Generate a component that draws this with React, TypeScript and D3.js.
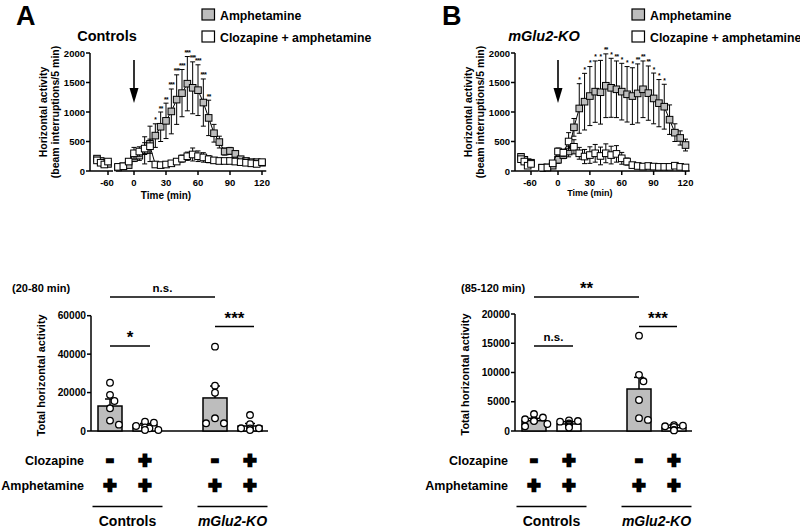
import React from 'react';
import * as d3 from 'd3';

const FONT = 'Arial, "Liberation Sans", Helvetica, sans-serif';

// ---------- time course data ----------
const timeLeft = [-75, -70, -65, -60];
const timeRight = [-15, -10, -5, 0, 5, 10, 15, 20, 25, 30, 35, 40, 45, 50, 55, 60, 65, 70, 75, 80, 85, 90, 95, 100, 105, 110, 115, 120];
const xTicksLeft = [-60];
const xTicksRight = [0, 30, 60, 90, 120];
const yTicksTime = [0, 500, 1000, 1500, 2000];

// Controls (panel A)
const ctrlAmphLeft = [210, 170, 130, 120];
const ctrlAmphLeftSem = [40, 30, 30, 30];
const ctrlClozLeft = [180, 140, 110, 160];
const ctrlClozLeftSem = [30, 30, 30, 30];
const ctrlAmph = [60, 80, 100, 220, 260, 350, 460, 600, 750, 850, 1010, 1210, 1320, 1480, 1410, 1370, 1160, 900, 640, 490, 330, 340, 290, 200, 170, 150, 150, 140];
const ctrlAmphSem = [20, 20, 30, 60, 80, 230, 300, 200, 250, 300, 380, 420, 400, 460, 440, 430, 400, 300, 150, 100, 60, 60, 50, 40, 30, 30, 30, 30];
const ctrlCloz = [70, 80, 160, 300, 330, 380, 420, 110, 100, 110, 130, 160, 210, 250, 280, 250, 230, 200, 180, 170, 170, 170, 160, 150, 140, 130, 120, 150];
const ctrlClozSem = [20, 20, 40, 100, 80, 100, 120, 40, 30, 30, 30, 40, 60, 70, 110, 90, 80, 60, 40, 30, 30, 30, 30, 30, 30, 30, 30, 30];
const ctrlStars = ['', '', '', '', '', '', '', '*', '**', '**', '***', '***', '***', '***', '***', '***', '***', '**', '', '', '', '', '', '', '', '', '', ''];

// mGlu2-KO (panel B)
const koAmphLeft = [240, 190, 150, 140];
const koAmphLeftSem = [50, 40, 30, 30];
const koClozLeft = [200, 160, 90, 120];
const koClozLeftSem = [40, 30, 30, 30];
const koAmph = [56, 60, 90, 190, 270, 330, 740, 1060, 1175, 1270, 1345, 1335, 1445, 1410, 1385, 1345, 1300, 1270, 1315, 1385, 1320, 1230, 1150, 1090, 870, 650, 560, 440];
const koAmphSem = [20, 20, 30, 60, 60, 90, 150, 420, 480, 500, 520, 540, 540, 500, 480, 480, 470, 480, 500, 480, 460, 430, 400, 380, 250, 150, 120, 100];
const koCloz = [56, 60, 130, 330, 310, 500, 410, 300, 245, 270, 300, 255, 300, 270, 290, 215, 160, 100, 85, 75, 85, 75, 70, 70, 70, 90, 70, 60];
const koClozSem = [20, 20, 30, 60, 60, 150, 120, 100, 120, 140, 150, 150, 160, 150, 140, 100, 60, 40, 30, 30, 30, 30, 30, 30, 30, 30, 30, 30];
const koStars = ['', '', '', '', '', '', '', '*', '*', '*', '*', '*', '**', '*', '**', '*', '*', '*', '**', '**', '**', '*', '*', '*', '', '', '', ''];

// ---------- bar panel data ----------
const barGroups = ['ctl-', 'ctl+', 'gap', 'ko-', 'ko+'];
const barKeys = ['ctl-', 'ctl+', 'ko-', 'ko+'];
const clozapineSigns = ['-', '+', '-', '+'];
const amphetamineSigns = ['+', '+', '+', '+'];

const cMeans = [13000, 3100, 17200, 2600];
const cSem = [3650, 800, 6200, 1300];
const cPoints = [
  [25100, 18800, 15600, 11800, 5400, 3300],
  [4860, 4340, 2600, 1900, 1390, 520, 520],
  [43900, 23600, 19900, 6600, 4000, 4000],
  [8300, 3600, 1400, 1400, 1300, 500],
];
const cTicks = [0, 20000, 40000, 60000];

const dMeans = [1760, 1200, 7180, 570];
const dSem = [410, 400, 1990, 450];
const dPoints = [
  [2900, 2300, 2000, 1800, 1700, 1200, 800],
  [1800, 1700, 1600, 1300, 1100, 800, 600],
  [16300, 9600, 8500, 5300, 2200, 1900],
  [1000, 900, 800, 700, 200, 100],
];
const dTicks = [0, 5000, 10000, 15000, 20000];

const GRAY = '#bdbdbd';

function swarm(values: number[], y: (v: number) => number, r: number) {
  const placed: { x: number; y: number }[] = [];
  const order = values.map((_, i) => i).sort((a, b) => values[b] - values[a]);
  const res: { x: number; y: number }[] = new Array(values.length);
  const offsets = [0, 1, -1, 2, -2, 3, -3];
  for (const i of order) {
    const py = y(values[i]);
    for (const o of offsets) {
      const px = o * r * 1.35;
      if (placed.every(p => Math.hypot(p.x - px, p.y - py) >= 2 * r + 0.3)) {
        placed.push({ x: px, y: py });
        res[i] = { x: px, y: py };
        break;
      }
    }
    if (!res[i]) res[i] = { x: 0, y: py };
  }
  return res;
}

type TimeCfg = {
  axisX: number; x0: number; x120: number; leftRange: [number, number];
  letter: string; letterX: number; title: string; italic: boolean; titleX: number;
  legendX: number; timeLabelSize: number; timeLabelY: number;
  amphL: number[]; amphLS: number[]; clozL: number[]; clozLS: number[];
  amph: number[]; amphS: number[]; cloz: number[]; clozS: number[]; stars: string[];
};

function TimePanel({ c }: { c: TimeCfg }) {
  const yTop = 53, yBot = 171;
  const y = d3.scaleLinear().domain([0, 2000]).range([yBot, yTop]);
  const xr = d3.scaleLinear().domain([0, 120]).range([c.x0, c.x120]);
  const xl = d3.scaleLinear().domain([-75, -60]).range(c.leftRange);
  const sq = 6.6;
  const line = d3.line<number>();

  const series = (xs: number[], xsc: (v: number) => number, vals: number[], sems: number[], fill: string, key: string) => (
    <g key={key}>
      <path d={line(vals.map((v, i) => [xsc(xs[i]), y(v)]) as any) || ''} fill="none" stroke="#000" strokeWidth={1} />
      {vals.map((v, i) => {
        const px = xsc(xs[i]);
        const yt = y(v + sems[i]), yb = y(Math.max(0, v - sems[i]));
        return (
          <g key={i}>
            <line x1={px} x2={px} y1={yt} y2={yb} stroke="#000" strokeWidth={1} />
            <line x1={px - 2.5} x2={px + 2.5} y1={yt} y2={yt} stroke="#000" strokeWidth={1} />
            <line x1={px - 2.5} x2={px + 2.5} y1={yb} y2={yb} stroke="#000" strokeWidth={1} />
          </g>
        );
      })}
      {vals.map((v, i) => (
        <rect key={'s' + i} x={xsc(xs[i]) - sq / 2} y={y(v) - sq / 2} width={sq} height={sq} fill={fill} stroke="#000" strokeWidth={1} />
      ))}
    </g>
  );

  return (
    <g fontFamily={FONT} fontWeight="bold">
      <text x={c.letterX} y={25} fontSize={27}>{c.letter}</text>
      <text x={c.titleX} y={41} fontSize={14.5} textAnchor="middle" fontStyle={c.italic ? 'italic' : 'normal'}>{c.title}</text>
      {/* legend */}
      <rect x={c.legendX} y={9} width={12.5} height={11} fill={GRAY} stroke="#000" strokeWidth={1.2} />
      <text x={c.legendX + 18} y={19.5} fontSize={12.3}>Amphetamine</text>
      <rect x={c.legendX} y={31} width={12.5} height={11} fill="#fff" stroke="#000" strokeWidth={1.2} />
      <text x={c.legendX + 18} y={41.5} fontSize={12.3}>Clozapine + amphetamine</text>
      {/* y axis */}
      <line x1={c.axisX} x2={c.axisX} y1={yTop} y2={yBot} stroke="#000" strokeWidth={1.5} />
      {yTicksTime.map(t => (
        <g key={t}>
          <line x1={c.axisX - 4} x2={c.axisX} y1={y(t)} y2={y(t)} stroke="#000" strokeWidth={1.5} />
          <text x={c.axisX - 5} y={y(t) + 3.5} fontSize={9.5} textAnchor="end">{t}</text>
        </g>
      ))}
      <g transform={`translate(${c.axisX - 43},${(yTop + yBot) / 2}) rotate(-90)`}>
        <text x={0} y={0} fontSize={10.5} textAnchor="middle">Horizontal activity</text>
        <text x={0} y={12} fontSize={10.5} textAnchor="middle">(beam interruptions/5 min)</text>
      </g>
      {/* x axis segments */}
      <line x1={c.axisX} x2={c.axisX + 23} y1={yBot} y2={yBot} stroke="#000" strokeWidth={1.5} />
      <line x1={xr(-17)} x2={xr(124)} y1={yBot} y2={yBot} stroke="#000" strokeWidth={1.5} />
      {xTicksLeft.map(t => (
        <g key={'l' + t}>
          <line x1={xl(t)} x2={xl(t)} y1={yBot} y2={yBot + 4} stroke="#000" strokeWidth={1.5} />
          <text x={xl(t) - 1} y={yBot + 14.5} fontSize={9.5} textAnchor="middle">{t}</text>
        </g>
      ))}
      {xTicksRight.map(t => (
        <g key={'r' + t}>
          <line x1={xr(t)} x2={xr(t)} y1={yBot} y2={yBot + 4} stroke="#000" strokeWidth={1.5} />
          <text x={xr(t)} y={yBot + 14.5} fontSize={9.5} textAnchor="middle">{t}</text>
        </g>
      ))}
      <text x={xr(30)} y={c.timeLabelY} fontSize={c.timeLabelSize} textAnchor="middle">Time (min)</text>
      {/* arrow */}
      <line x1={xr(0)} x2={xr(0)} y1={60} y2={92} stroke="#000" strokeWidth={1.6} />
      <path d={`M${xr(0) - 4.5},88 L${xr(0) + 4.5},88 L${xr(0)},103 Z`} fill="#000" />
      {/* series */}
      {series(timeLeft, xl, c.amphL, c.amphLS, GRAY, 'al')}
      {series(timeRight, xr, c.amph, c.amphS, GRAY, 'ar')}
      {series(timeLeft, xl, c.clozL, c.clozLS, '#fff', 'cl')}
      {series(timeRight, xr, c.cloz, c.clozS, '#fff', 'cr')}
      {c.stars.map((s, i) => s ? (
        <text key={'st' + i} x={xr(timeRight[i])} y={y(c.amph[i] + c.amphS[i]) - 1.5} fontSize={6.5} textAnchor="middle" letterSpacing={-0.6}>{s}</text>
      ) : null)}
    </g>
  );
}

type BarCfg = {
  axisX: number; endX: number; range: [number, number]; max: number; ticks: number[]; top: number;
  means: number[]; sem: number[]; points: number[][]; period: string; periodX: number;
  sig: { a: number; b: number; y: number; label: string; extend: number; size: number }[];
};

function BarPanel({ c }: { c: BarCfg }) {
  const yBot = 431;
  const y = d3.scaleLinear().domain([0, c.max]).range([yBot, c.top]);
  const x = d3.scalePoint<string>().domain(barGroups).range(c.range);
  const bw = 24;
  const r = 3.3;
  const sign = (cx: number, cy: number, s: string, key: string) => (
    <text key={key} x={cx} y={cy + (s === '+' ? 7.6 : 6.2)} fontSize={22} textAnchor="middle" stroke="#000" strokeWidth={2.4} strokeLinejoin="miter">{s}</text>
  );
  const mid1 = ((x('ctl-') as number) + (x('ctl+') as number)) / 2;
  const mid2 = ((x('ko-') as number) + (x('ko+') as number)) / 2;
  return (
    <g fontFamily={FONT} fontWeight="bold">
      <text x={c.periodX} y={292} fontSize={11}>{c.period}</text>
      <line x1={c.axisX} x2={c.axisX} y1={c.top} y2={yBot} stroke="#000" strokeWidth={1.5} />
      <line x1={c.axisX} x2={c.endX} y1={yBot} y2={yBot} stroke="#000" strokeWidth={1.5} />
      {c.ticks.map(t => (
        <g key={t}>
          <line x1={c.axisX - 4} x2={c.axisX} y1={y(t)} y2={y(t)} stroke="#000" strokeWidth={1.5} />
          <text x={c.axisX - 5} y={y(t) + 3.6} fontSize={10.2} textAnchor="end">{t}</text>
        </g>
      ))}
      <text transform={`translate(${c.axisX - 46},${(c.top + yBot) / 2 + 2}) rotate(-90)`} fontSize={11} textAnchor="middle">Total horizontal activity</text>
      {barKeys.map((k, i) => {
        const cx = x(k) as number;
        const top = y(c.means[i]);
        const et = y(c.means[i] + c.sem[i]);
        const pts = swarm(c.points[i], y, r);
        return (
          <g key={k}>
            <rect x={cx - bw / 2} y={top} width={bw} height={yBot - top} fill={i % 2 === 0 ? GRAY : '#fff'} stroke="#000" strokeWidth={1.5} />
            <line x1={cx} x2={cx} y1={top} y2={et} stroke="#000" strokeWidth={1.5} />
            <line x1={cx - 5} x2={cx + 5} y1={et} y2={et} stroke="#000" strokeWidth={1.5} />
            {pts.map((p, j) => (
              <circle key={j} cx={cx + p.x} cy={p.y} r={r} fill="#fff" stroke="#000" strokeWidth={1.3} />
            ))}
          </g>
        );
      })}
      {c.sig.map((s, i) => {
        const x1 = x(barKeys[s.a]) as number;
        const x2 = (x(barKeys[s.b]) as number) + s.extend;
        return (
          <g key={i}>
            <line x1={x1} x2={x2} y1={s.y} y2={s.y} stroke="#000" strokeWidth={1.3} />
            <text x={(x1 + x2) / 2} y={s.label.includes('*') ? s.y - 3 : s.y - 5} fontSize={s.size} textAnchor="middle">{s.label}</text>
          </g>
        );
      })}
      <text x={c.range[0] - 26} y={465} fontSize={12.5} textAnchor="end">Clozapine</text>
      <text x={c.range[0] - 26} y={489.5} fontSize={12.5} textAnchor="end">Amphetamine</text>
      {barKeys.map((k, i) => sign(x(k) as number, 460, clozapineSigns[i], 'c' + i))}
      {barKeys.map((k, i) => sign(x(k) as number, 485, amphetamineSigns[i], 'a' + i))}
      <line x1={mid1 - 35} x2={mid1 + 35} y1={506.5} y2={506.5} stroke="#000" strokeWidth={1.5} />
      <line x1={mid2 - 35} x2={mid2 + 35} y1={506.5} y2={506.5} stroke="#000" strokeWidth={1.5} />
      <text x={mid1} y={526} fontSize={14} textAnchor="middle">Controls</text>
      <text x={mid2} y={526} fontSize={14} textAnchor="middle" fontStyle="italic">mGlu2-KO</text>
    </g>
  );
}

export default function App() {
  const A: TimeCfg = {
    axisX: 90, x0: 134, x120: 262, leftRange: [97, 108], letter: 'A', letterX: 16, title: 'Controls', italic: false, titleX: 107,
    legendX: 202, timeLabelSize: 10, timeLabelY: 199,
    amphL: ctrlAmphLeft, amphLS: ctrlAmphLeftSem, clozL: ctrlClozLeft, clozLS: ctrlClozLeftSem,
    amph: ctrlAmph, amphS: ctrlAmphSem, cloz: ctrlCloz, clozS: ctrlClozSem, stars: ctrlStars,
  };
  const B: TimeCfg = {
    axisX: 515, x0: 558, x120: 685.5, leftRange: [521, 531], letter: 'B', letterX: 442, title: 'mGlu2-KO', italic: true, titleX: 544,
    legendX: 632, timeLabelSize: 9, timeLabelY: 196,
    amphL: koAmphLeft, amphLS: koAmphLeftSem, clozL: koClozLeft, clozLS: koClozLeftSem,
    amph: koAmph, amphS: koAmphSem, cloz: koCloz, clozS: koClozSem, stars: koStars,
  };
  const C: BarCfg = {
    axisX: 91, endX: 268, range: [110, 250], max: 60000, ticks: cTicks, top: 315.7,
    means: cMeans, sem: cSem, points: cPoints, period: '(20-80 min)', periodX: 12,
    sig: [
      { a: 0, b: 2, y: 297, label: 'n.s.', extend: 0, size: 11.5 },
      { a: 0, b: 1, y: 346, label: '*', extend: 5, size: 17 },
      { a: 2, b: 3, y: 326.5, label: '***', extend: 4, size: 17 },
    ],
  };
  const D: BarCfg = {
    axisX: 515, endX: 692, range: [534, 674], max: 20000, ticks: dTicks, top: 314,
    means: dMeans, sem: dSem, points: dPoints, period: '(85-120 min)', periodX: 461,
    sig: [
      { a: 0, b: 2, y: 297, label: '**', extend: 0, size: 17 },
      { a: 0, b: 1, y: 346, label: 'n.s.', extend: 4, size: 11.5 },
      { a: 2, b: 3, y: 326.5, label: '***', extend: 3, size: 17 },
    ],
  };
  return (
    <svg width={800} height={528} style={{ position: 'absolute', left: 0, top: 0, background: '#fff' }}>
      <rect x={0} y={0} width={800} height={528} fill="#fff" />
      <TimePanel c={A} />
      <TimePanel c={B} />
      <BarPanel c={C} />
      <BarPanel c={D} />
    </svg>
  );
}
